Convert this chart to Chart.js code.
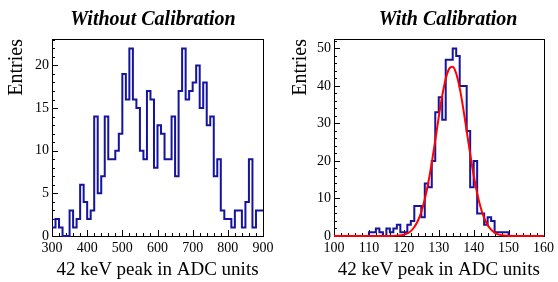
<!DOCTYPE html>
<html>
<head>
<meta charset="utf-8">
<title>42 keV peak</title>
<script src="https://cdn.jsdelivr.net/npm/chart.js@4.4.1/dist/chart.umd.min.js"></script>
<style>
  html, body { margin: 0; padding: 0; background: #fff; }
  #wrap { position: relative; width: 558px; height: 282px; }
  .pad { position: absolute; top: 0; width: 279px; height: 282px; }
  #pad-left { left: 0; }
  #pad-right { left: 279px; }
</style>
</head>
<body>
<div id="wrap">
  <div class="pad" id="pad-left"><canvas id="uncal" width="279" height="282"></canvas></div>
  <div class="pad" id="pad-right"><canvas id="cal" width="279" height="282"></canvas></div>
</div>
<script>
// Left pad: raw ADC values, 10 ADC per bin starting at 300
const rawBinStart = 300;
const rawBinWidth = 10;
const rawCounts = [
  1, 2, 1, 0, 0, 3, 1, 2, 6, 4,
  2, 3, 14, 5, 7, 14, 9, 9, 10, 12,
  19, 16, 22, 16, 15, 10, 9, 17, 16, 8,
  13, 12, 9, 9, 14, 7, 17, 22, 16, 17,
  18, 20, 15, 18, 13, 14, 7, 9, 3, 2,
  2, 1, 3, 3, 1, 4, 9, 1, 3, 3
];
const rawXTicks = [300, 400, 500, 600, 700, 800, 900];
const rawYTicks = [0, 5, 10, 15, 20];

// Right pad: calibrated values, 1 unit per bin starting at 100
const calBinStart = 100;
const calBinWidth = 1;
const calCounts = [
  0, 0, 0, 0, 0, 0, 0, 0, 0, 0,
  1, 1, 2, 1, 0, 2, 1, 2, 3, 1,
  1, 3, 4, 8, 8, 5, 14, 13, 20, 33,
  37, 31, 47, 47, 50, 48, 40, 40, 28, 13,
  20, 6, 6, 3, 5, 4, 1, 1, 1, 1,
  0, 0, 0, 0, 0, 0, 0, 0, 0, 0
];
const calXTicks = [100, 110, 120, 130, 140, 150, 160];
const calYTicks = [0, 10, 20, 30, 40, 50];

// gaussian fit curve
const fitX = [100, 110, 116, 118, 120, 121, 122, 123, 124, 125, 126, 127, 128, 129, 130, 131, 132, 133, 134,
  135, 136, 137, 138, 139, 140, 141, 142, 143, 144, 145, 146, 147, 148, 150, 152, 160];
const fitY = [0, 0, 0, 0.1, 0.35, 0.7, 1.3, 2.4, 4.0, 6.4, 9.8, 14.2, 19.5, 25.5, 31.7, 37.4, 41.9, 44.6, 45.1,
  43.3, 39.4, 34.1, 28.0, 21.9, 16.2, 11.4, 7.6, 4.8, 2.9, 1.7, 0.9, 0.45, 0.2, 0.05, 0, 0];

const serif = "'Liberation Serif', 'Times New Roman', serif";
const histColor = '#14149e';

function histPoints(start, width, counts) {
    const pts = counts.map((c, i) => ({ x: start + i * width, y: c }));
    pts.push({ x: start + counts.length * width, y: counts[counts.length - 1] });
    return pts;
}

// ROOT style frame: box + inward ticks + pad title
const rootPad = {
    id: 'rootPad',
    beforeDatasetsDraw(chart, args, opts) {
        const { ctx, chartArea: a, scales: { x, y } } = chart;
        ctx.save();
        ctx.strokeStyle = '#000';
        ctx.lineWidth = 1;
        ctx.strokeRect(Math.round(a.left) + 0.5, Math.round(a.top) + 0.5,
            Math.round(a.right - a.left), Math.round(a.bottom - a.top));

        ctx.beginPath();
        const nx = Math.round((x.max - x.min) / opts.xMinor);
        for (let i = 0; i <= nx; i++) {
            const v = x.min + i * opts.xMinor;
            const major = Math.abs(v / opts.xMajor - Math.round(v / opts.xMajor)) < 1e-6;
            const px = Math.round(x.getPixelForValue(v)) + 0.5;
            ctx.moveTo(px, a.bottom);
            ctx.lineTo(px, a.bottom - (major ? 6 : 3));
        }
        const ny = Math.floor((y.max - y.min) / opts.yMinor + 1e-6);
        for (let i = 0; i <= ny; i++) {
            const v = y.min + i * opts.yMinor;
            const major = Math.abs(v / opts.yMajor - Math.round(v / opts.yMajor)) < 1e-6;
            const py = Math.round(y.getPixelForValue(v)) + 0.5;
            ctx.moveTo(a.left, py);
            ctx.lineTo(a.left + (major ? 6 : 3), py);
        }
        ctx.stroke();
        ctx.restore();
    },
    afterDraw(chart, args, opts) {
        const { ctx } = chart;
        ctx.save();
        ctx.fillStyle = '#000';
        ctx.font = 'italic bold 20px ' + serif;
        ctx.textAlign = 'center';
        ctx.textBaseline = 'alphabetic';
        ctx.fillText(opts.title, opts.titleX, 25);
        ctx.restore();
    }
};

function makePad(canvasId, cfg) {
    const ctx = document.getElementById(canvasId).getContext('2d');
    const datasets = [{
        label: 'hist',
        data: histPoints(cfg.binStart, cfg.binWidth, cfg.counts),
        stepped: true,
        borderColor: histColor,
        borderWidth: 2,
        pointRadius: 0,
        fill: false,
        clip: false,
        order: 1
    }];
    if (cfg.fit) {
        datasets.push({
            label: 'fit',
            data: cfg.fit.x.map((v, i) => ({ x: v, y: cfg.fit.y[i] })),
            borderColor: '#ff0000',
            borderWidth: 2,
            pointRadius: 0,
            cubicInterpolationMode: 'monotone',
            fill: false,
            clip: false,
            order: 0
        });
    }

    return new Chart(ctx, {
        type: 'line',
        data: { datasets: datasets },
        options: {
            responsive: false,
            animation: false,
            layout: { padding: { top: 39, right: cfg.padRight, left: 0, bottom: 0 } },
            plugins: {
                legend: { display: false },
                tooltip: { enabled: false },
                rootPad: {
                    title: cfg.title, titleX: cfg.titleX,
                    xMajor: cfg.xMajor, xMinor: cfg.xMinor,
                    yMajor: cfg.yMajor, yMinor: cfg.yMinor
                }
            },
            scales: {
                x: {
                    type: 'linear',
                    min: cfg.xTicks[0],
                    max: cfg.xTicks[cfg.xTicks.length - 1],
                    grid: { display: false, drawTicks: false },
                    border: { display: false },
                    afterBuildTicks: s => { s.ticks = cfg.xTicks.map(v => ({ value: v })); },
                    afterFit: s => { s.height = 46; },
                    ticks: {
                        color: '#000', padding: 4, maxRotation: 0, autoSkip: false,
                        font: { family: serif, size: 14 }
                    },
                    title: {
                        display: true, text: '42 keV peak in ADC units', color: '#000',
                        font: { family: serif, size: 19 }, padding: { top: 0, bottom: 1 }
                    }
                },
                y: {
                    min: 0,
                    max: cfg.yMax,
                    grid: { display: false, drawTicks: false },
                    border: { display: false },
                    afterBuildTicks: s => { s.ticks = cfg.yTicks.map(v => ({ value: v })); },
                    afterFit: s => { s.width = cfg.yWidth; },
                    ticks: {
                        color: '#000', padding: 3, autoSkip: false,
                        font: { family: serif, size: 14 }
                    },
                    title: {
                        display: true, text: 'Entries', color: '#000', align: 'end',
                        font: { family: serif, size: 20 }, padding: { top: cfg.yTitlePad, bottom: 0 }
                    }
                }
            }
        },
        plugins: [rootPad]
    });
}

makePad('uncal', {
    binStart: rawBinStart, binWidth: rawBinWidth, counts: rawCounts,
    xTicks: rawXTicks, yTicks: rawYTicks, yMax: 23.1,
    xMajor: 100, xMinor: 20, yMajor: 5, yMinor: 1,
    title: 'Without Calibration', titleX: 153,
    padRight: 16, yWidth: 52, yTitlePad: 5
});

makePad('cal', {
    binStart: calBinStart, binWidth: calBinWidth, counts: calCounts,
    xTicks: calXTicks, yTicks: calYTicks, yMax: 52.5,
    xMajor: 10, xMinor: 2, yMajor: 10, yMinor: 2,
    fit: { x: fitX, y: fitY },
    title: 'With Calibration', titleX: 169,
    padRight: 11, yWidth: 55, yTitlePad: 10
});
</script>
</body>
</html>
